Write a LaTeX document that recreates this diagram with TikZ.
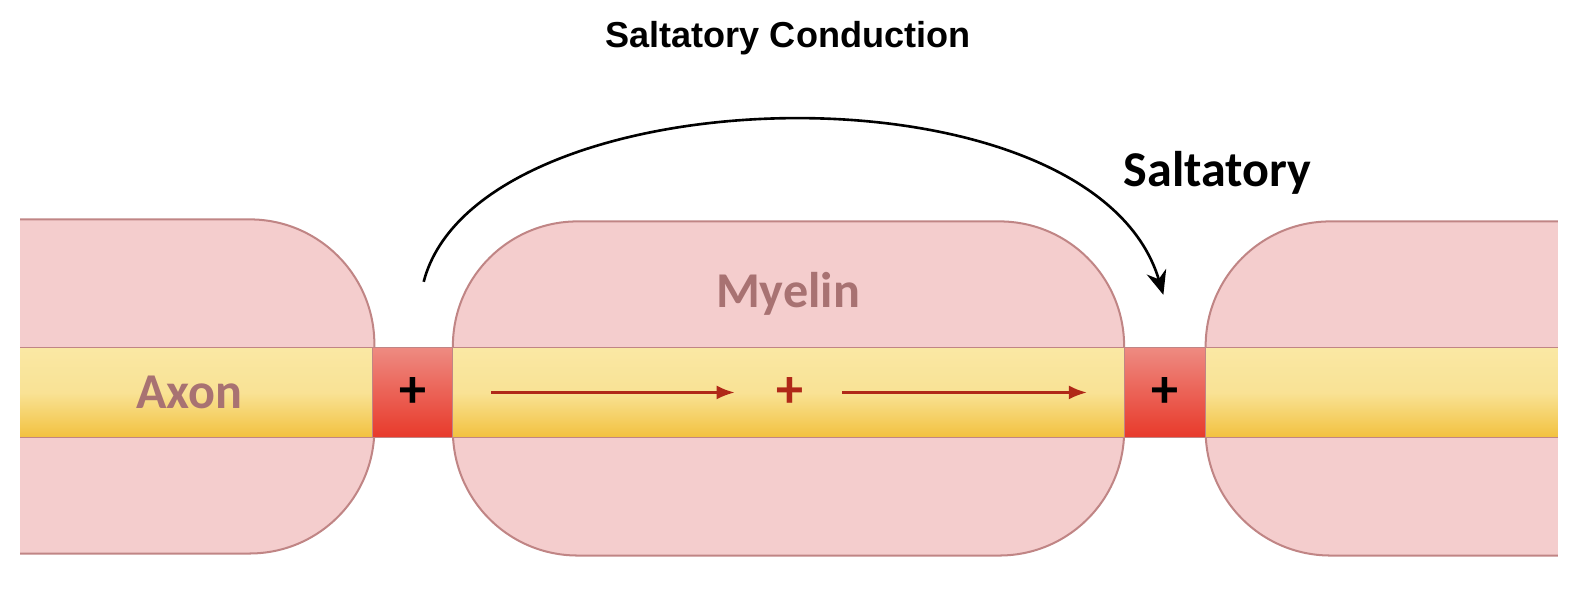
\documentclass[tikz,border=0pt]{standalone}
\usetikzlibrary{arrows.meta}
\usepackage{fontspec}
\setmainfont{Carlito}
\newfontfamily\arialf{Liberation Sans}
\definecolor{myfill}{HTML}{F4CDCD}
\definecolor{myline}{HTML}{C08585}
\definecolor{mytext}{HTML}{A87272}
\definecolor{darkred}{HTML}{B02818}
\definecolor{axtop}{HTML}{FAE8A4}
\definecolor{axbot}{HTML}{F2C13E}
\definecolor{rdtop}{HTML}{EE8B82}
\definecolor{rdbot}{HTML}{E8392A}
\tikzset{myelin/.style={fill=myfill}, myedge/.style={draw=myline, line width=1bp},
 nodebox/.style={top color=rdtop, bottom color=rdbot, draw=myline, line width=0.6bp},
 lab/.style={font=\bfseries\fontsize{25}{28}\selectfont, text=mytext},
 plus/.style={font=\bfseries\fontsize{27}{28}\selectfont}}
\begin{document}
\begin{tikzpicture}[x=0.5bp,y=-0.5bp]
\useasboundingbox (0,0) rectangle (1568,588);
% myelin
\fill[myelin, rounded corners=62bp] (20,218) -- (372,218) -- (372,550) -- (20,550);
\draw[myedge, rounded corners=62bp] (20,218) -- (372,218) -- (372,550) -- (20,550);
\draw[myelin, myedge, rounded corners=62bp] (450,220) rectangle (1117,552);
\fill[myelin, rounded corners=62bp] (1548,220) -- (1198,220) -- (1198,552) -- (1548,552);
\draw[myedge, rounded corners=62bp] (1548,220) -- (1198,220) -- (1198,552) -- (1548,552);
% axon
\shade[top color=axtop, bottom color=axbot, middle color=axtop!85!axbot] (20,345) rectangle (1548,435);
\draw[myline, line width=0.6bp] (20,345) -- (1548,345) (20,435) -- (1548,435);
\node[nodebox, minimum width=40bp, minimum height=45bp, inner sep=0pt] (n1) at (410,390) {};
\node[nodebox, minimum width=40.5bp, minimum height=45bp, inner sep=0pt] (n2) at (1157.5,390) {};
\node[plus] at (n1) {+};
\node[plus] at (n2) {+};
\node[plus, text=darkred] (p) at (785,390) {+};
\coordinate (a1) at (488,390); \coordinate (a2) at (730,390);
\coordinate (a3) at (837,390); \coordinate (a4) at (1080,390);
\draw[darkred, line width=1.2bp, -{Latex[length=9bp,width=7bp]}] (a1) -- (a2);
\draw[darkred, line width=1.2bp, -{Latex[length=9bp,width=7bp]}] (a3) -- (a4);
\node[lab] (my) at (783,292) {Myelin};
\node[lab] (ax) at (188,390) {Axon};
% jump arrow
\coordinate (s) at (421,280); \coordinate (e) at (1156,293);
\draw[line width=1.3bp, -{Stealth[length=12bp,width=10bp]}] (s) .. controls (475,72) and (1085,55) .. (e);
\node[font=\bfseries\fontsize{25}{28}\selectfont] (sal) at (1210,172) {Saltatory};
\node[font=\arialf\bfseries\fontsize{18}{22}\selectfont] (title) at (783,38) {Saltatory Conduction};
\end{tikzpicture}
\end{document}
